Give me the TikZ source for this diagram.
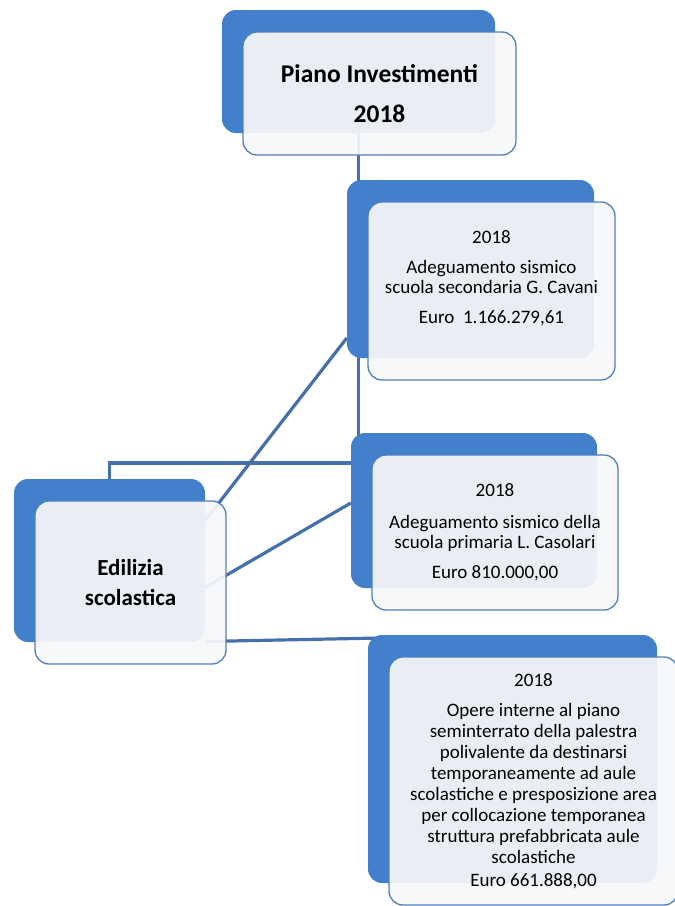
\documentclass[tikz,border=0pt]{standalone}
\usepackage{fontspec}
\setmainfont{Carlito}
\usetikzlibrary{positioning, backgrounds}
\definecolor{backblue}{RGB}{66,128,204}
\definecolor{rim}{RGB}{79,127,188}
\definecolor{panel}{RGB}{246,247,249}
\definecolor{wire}{RGB}{70,112,172}

\begin{document}
\begin{tikzpicture}[x=1pt, y=-1pt,
        back/.style={rectangle, rounded corners=14pt, fill=backblue, draw=none},
        front/.style={rectangle, rounded corners=14pt, draw=rim, line width=1.3pt, fill=panel, fill opacity=0.93},
        wirebar/.style={draw=wire, line width=3.2pt},
        small/.style={align=center, inner sep=0pt, font=\fontsize{19}{20}\selectfont},
        big/.style={align=center, inner sep=0pt, font=\bfseries\fontsize{25.5}{40}\selectfont}]
        \useasboundingbox (0,0) rectangle (675,906);

        % Back panels
        \node[back, minimum width=273pt, minimum height=123pt] (topb) at (358.5,71.5) {};
        \node[back, minimum width=247pt, minimum height=178pt] (cavb) at (470.5,269) {};
        \node[back, minimum width=246pt, minimum height=155pt] (casb) at (474,510.5) {};
        \node[back, minimum width=191pt, minimum height=163pt] (edib) at (109.5,560.5) {};
        \node[back, minimum width=289pt, minimum height=248pt] (palb) at (512.5,759) {};

        % Connectors
        \begin{scope}[on background layer]
            \draw[wirebar] (topb.south) -- (topb.south |- casb.center);
            \draw[wirebar] (edib.center) |- ([yshift=47.5pt]casb.center);
            \draw[wirebar] ([yshift=40pt]edib.east) -- ([yshift=-69pt]cavb.west);
            \draw[wirebar] ([yshift=-27pt]edib.east) -- ([yshift=7.5pt]casb.west);
            \draw[wirebar] ([yshift=-81pt]edib.east) -- ([xshift=12pt, yshift=121pt]palb.west);
        \end{scope}

        % Front panels
        \node[front, minimum width=273pt, minimum height=123pt] (topf) at ([xshift=21pt, yshift=-22pt]topb.center) {};
        \node[front, minimum width=247pt, minimum height=178pt] (cavf) at ([xshift=21pt, yshift=-22pt]cavb.center) {};
        \node[front, minimum width=246pt, minimum height=155pt] (casf) at ([xshift=21pt, yshift=-22pt]casb.center) {};
        \node[front, minimum width=191pt, minimum height=163pt] (edif) at ([xshift=21pt, yshift=-22pt]edib.center) {};
        \node[front, minimum width=289pt, minimum height=248pt] (palf) at ([xshift=21pt, yshift=-22pt]palb.center) {};

        % Texts
        \node[big] (topt) at (topf.center) {Piano Investimenti\\2018};
        \node[big, font=\bfseries\fontsize{23}{30}\selectfont] (edit) at (edif.center) {Edilizia\\scolastica};
        \node[small] (cavt) at ([yshift=13pt]cavf.center) {2018\\[10pt]Adeguamento sismico\\scuola secondaria G. Cavani\\[10pt]Euro\ \ 1.166.279,61};
        \node[small] (cast) at (casf.center) {2018\\[12pt]Adeguamento sismico della\\scuola primaria L. Casolari\\[10pt]Euro 810.000,00};
        \node[small, font=\fontsize{19}{21}\selectfont] (palt) at (palf.center) {2018\\[9pt]Opere interne al piano\\seminterrato della palestra\\polivalente da destinarsi\\temporaneamente ad aule\\scolastiche e presposizione area\\per collocazione temporanea\\struttura prefabbricata aule\\scolastiche\\[2pt]Euro 661.888,00};
    \end{tikzpicture}
\end{document}
